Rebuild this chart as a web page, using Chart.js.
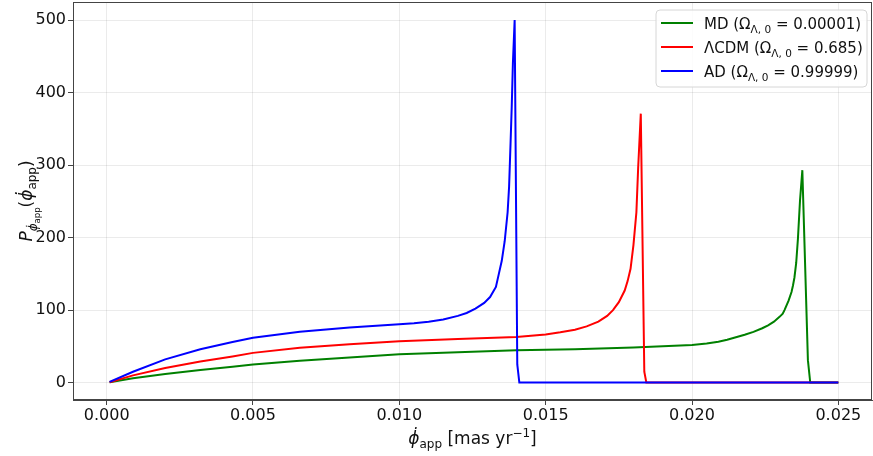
<!DOCTYPE html>
<html>
<head>
<meta charset="utf-8">
<script src="https://cdn.jsdelivr.net/npm/chart.js@4.4.1/dist/chart.umd.min.js"></script>
<style>
    html, body { margin: 0; padding: 0; background: #fff; }
    #wrap { width: 873px; height: 456px; }
</style>
</head>
<body>
<div id="wrap"><canvas id="chart" width="873" height="456"></canvas></div>
<script>
// MD (Omega_L,0 = 0.00001)
const mdX = [0.0001, 0.0009, 0.002, 0.0032, 0.0043, 0.005, 0.0066, 0.0083, 0.010, 0.012, 0.014, 0.016, 0.018, 0.019, 0.020, 0.0205, 0.0209, 0.0212, 0.0215, 0.0218, 0.0221, 0.0224, 0.0226, 0.0228, 0.023, 0.0231, 0.02316, 0.0233, 0.0234, 0.02345, 0.0235, 0.02356, 0.02362, 0.02369, 0.02377, 0.02396, 0.02404, 0.025];
const mdY = [0.5, 6, 12, 17.5, 22, 25, 30, 34.6, 39, 42, 44.5, 46, 48.5, 50, 52, 54, 56.5, 59, 62.5, 66, 70, 75, 79, 84, 91, 95, 100, 113, 125, 134, 145, 165, 199, 251, 293, 31, 0, 0];

// LCDM (Omega_L,0 = 0.685)
const lcdmX = [0.0001, 0.0009, 0.002, 0.0032, 0.0043, 0.005, 0.0066, 0.0083, 0.010, 0.012, 0.014, 0.015, 0.0155, 0.016, 0.0164, 0.0168, 0.0171, 0.0173, 0.0175, 0.0177, 0.0178, 0.0179, 0.018, 0.0181, 0.01816, 0.01825, 0.01837, 0.01844, 0.025];
const lcdmY = [0.5, 10, 20, 29, 36, 41, 48, 53, 57, 60, 63, 66.5, 69.5, 73, 77.5, 84, 92, 100, 111, 127, 140, 157, 190, 235, 296, 371, 15, 0, 0];

// AD (Omega_L,0 = 0.99999)
const adX = [0.0001, 0.0009, 0.002, 0.0032, 0.0043, 0.005, 0.0066, 0.0083, 0.010, 0.0105, 0.011, 0.0115, 0.012, 0.0123, 0.0126, 0.0129, 0.0131, 0.0133, 0.0134, 0.0135, 0.0136, 0.0137, 0.01375, 0.0138, 0.01384, 0.01388, 0.01394, 0.01403, 0.0141, 0.025];
const adY = [1, 15, 32, 46, 56, 62, 70, 76, 80.5, 82, 84, 87, 92, 96, 102, 110, 118, 132, 150, 168, 195, 235, 270, 330, 380, 440, 500, 25, 0, 0];

const xTicks = [0, 0.005, 0.010, 0.015, 0.020, 0.025];
const yTicks = [0, 100, 200, 300, 400, 500];

const FONT = '"DejaVu Sans", sans-serif';
const toPoints = (xs, ys) => xs.map((x, i) => ({ x: x, y: ys[i] }));

// draw text made of pieces (for sub/superscripts), centred on x
const drawRich = (ctx, parts, x, y) => {
    let total = 0;
    parts.forEach(p => {
        ctx.font = (p[3] ? 'italic ' : '') + p[1] + 'px ' + FONT;
        total += ctx.measureText(p[0]).width;
    });
    let cx = x - total / 2;
    ctx.textAlign = 'left';
    ctx.textBaseline = 'alphabetic';
    parts.forEach(p => {
        ctx.font = (p[3] ? 'italic ' : '') + p[1] + 'px ' + FONT;
        ctx.fillText(p[0], cx, y + p[2]);
        cx += ctx.measureText(p[0]).width;
    });
};

const legendItems = [
    { color: 'green', parts: [['MD (Ω', 15, 0], ['Λ, 0', 10.5, 4], [' = 0.00001)', 15, 0]] },
    { color: '#ff0000', parts: [['ΛCDM (Ω', 15, 0], ['Λ, 0', 10.5, 4], [' = 0.685)', 15, 0]] },
    { color: '#0000ff', parts: [['AD (Ω', 15, 0], ['Λ, 0', 10.5, 4], [' = 0.99999)', 15, 0]] }
];

const decorPlugin = {
    id: 'decor',
    afterDraw(chart) {
        const ctx = chart.ctx;
        const a = chart.chartArea;
        ctx.save();

        // frame (all four spines)
        ctx.strokeStyle = '#444';
        ctx.lineWidth = 1;
        ctx.strokeRect(a.left + 0.5, a.top + 0.5, a.right - a.left - 1, a.bottom - a.top - 1);

        // axis titles
        ctx.fillStyle = '#111';
        drawRich(ctx, [
            ['ϕ\u0307', 17, 0, true], ['app', 12, 4], [' [mas yr', 17, 0], ['\u22121', 12, -7], [']', 17, 0]
        ], (a.left + a.right) / 2, 444);

        ctx.save();
        ctx.translate(32, (a.top + a.bottom) / 2);
        ctx.rotate(-Math.PI / 2);
        drawRich(ctx, [
            ['P', 17, 0, true], ['ϕ\u0307', 12, 5, true], ['app', 8.5, 8], ['(', 17, 0],
            ['ϕ\u0307', 17, 0, true], ['app', 12, 4], [')', 17, 0]
        ], 0, 0);
        ctx.restore();

        // legend box
        const bx = 656, by = 10, bw = 211, bh = 77, r = 4;
        ctx.beginPath();
        ctx.moveTo(bx + r, by);
        ctx.arcTo(bx + bw, by, bx + bw, by + bh, r);
        ctx.arcTo(bx + bw, by + bh, bx, by + bh, r);
        ctx.arcTo(bx, by + bh, bx, by, r);
        ctx.arcTo(bx, by, bx + bw, by, r);
        ctx.closePath();
        ctx.fillStyle = 'rgba(255,255,255,0.85)';
        ctx.fill();
        ctx.strokeStyle = '#d6d6d6';
        ctx.stroke();

        legendItems.forEach((item, i) => {
            const ry = 23 + i * 24;
            ctx.strokeStyle = item.color;
            ctx.lineWidth = 2;
            ctx.beginPath();
            ctx.moveTo(661, ry);
            ctx.lineTo(693, ry);
            ctx.stroke();
            ctx.fillStyle = '#111';
            // measure then left align at 704
            let w = 0;
            item.parts.forEach(p => {
                ctx.font = p[1] + 'px ' + FONT;
                w += ctx.measureText(p[0]).width;
            });
            drawRich(ctx, item.parts, 704 + w / 2, ry + 5.5);
        });

        ctx.restore();
    }
};

const gridOpts = {
    color: 'rgba(0,0,0,0.08)',
    lineWidth: 1,
    tickColor: '#444',
    tickLength: 5,
    drawTicks: true
};

new Chart(document.getElementById('chart'), {
    type: 'line',
    data: {
        datasets: [
            { label: 'MD', data: toPoints(mdX, mdY), borderColor: 'green', order: 2 },
            { label: 'ΛCDM', data: toPoints(lcdmX, lcdmY), borderColor: '#ff0000', order: 1 },
            { label: 'AD', data: toPoints(adX, adY), borderColor: '#0000ff', order: 0 }
        ]
    },
    options: {
        responsive: false,
        animation: false,
        devicePixelRatio: 1,
        layout: { padding: { top: 2, right: 1, left: 0, bottom: 0 } },
        elements: {
            line: { borderWidth: 2, tension: 0, fill: false },
            point: { radius: 0, hoverRadius: 0 }
        },
        plugins: {
            legend: { display: false },
            tooltip: { enabled: false }
        },
        scales: {
            x: {
                type: 'linear',
                min: -0.00115,
                max: 0.02615,
                grid: gridOpts,
                border: { display: true, color: '#444', width: 1 },
                ticks: {
                    font: { family: FONT, size: 16 },
                    color: '#111',
                    padding: 1,
                    maxRotation: 0,
                    callback: v => v.toFixed(3)
                },
                afterBuildTicks: s => { s.ticks = xTicks.map(v => ({ value: v })); },
                afterFit: s => { s.height = 56; s.paddingLeft = 0; s.paddingRight = 0; }
            },
            y: {
                type: 'linear',
                min: -24,
                max: 525,
                grid: gridOpts,
                border: { display: true, color: '#444', width: 1 },
                ticks: {
                    font: { family: FONT, size: 16 },
                    color: '#111',
                    padding: 2,
                    callback: v => String(v)
                },
                afterBuildTicks: s => { s.ticks = yTicks.map(v => ({ value: v })); },
                afterFit: s => { s.width = 73; s.paddingTop = 0; s.paddingBottom = 0; }
            }
        }
    },
    plugins: [decorPlugin]
});
</script>
</body>
</html>
